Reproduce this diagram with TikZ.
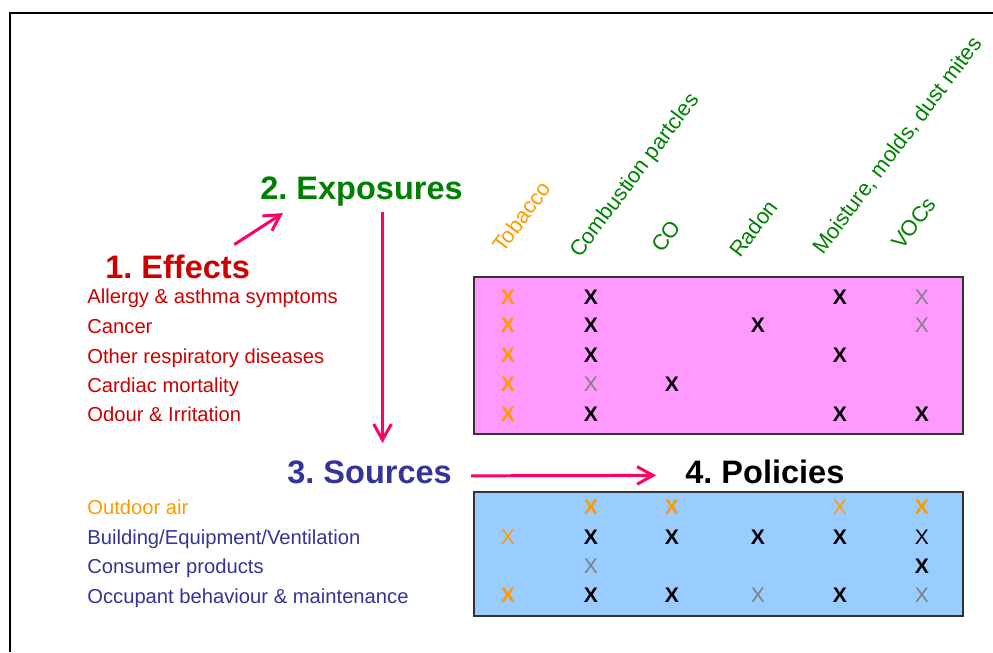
\documentclass[tikz,border=0pt]{standalone}
\usepackage{fontspec}
\setmainfont{Liberation Sans}
\usetikzlibrary{arrows.meta}
\definecolor{effectred}{HTML}{CC0000}
\definecolor{agentgreen}{HTML}{008000}
\definecolor{agentorange}{HTML}{FF9900}
\definecolor{sourceblue}{HTML}{333399}
\definecolor{flowpink}{HTML}{FF0066}
\definecolor{effectpink}{HTML}{FF99FF}
\definecolor{sourcesky}{HTML}{99CCFF}
\tikzset{
  heading/.style={anchor=base west, inner sep=0pt, font=\fontsize{18.5}{20}\selectfont\bfseries},
  item/.style={anchor=base west, inner sep=0pt, font=\fontsize{11.5}{13}\selectfont},
  agent/.style={anchor=base west, inner sep=0pt, rotate=53, text=agentgreen, font=\fontsize{12.4}{14}\selectfont},
  hit/.style={inner sep=0pt, font=\fontsize{12}{12}\selectfont\bfseries},
  hitthin/.style={inner sep=0pt, font=\fontsize{12}{12}\selectfont},
  flow/.style={-{Straight Barb[length=9pt,width=10pt]}, line width=1.7pt, draw=flowpink},
}
\frenchspacing
\begin{document}
\begin{tikzpicture}[x=0.02cm, y=-0.02cm]
\useasboundingbox (0,0) rectangle (993,652);
\draw[line width=1.1pt] (10,652) -- (10,13) -- (993,13);
% the two tables
\filldraw[fill=effectpink, draw=black!80, line width=0.6pt] (474,277) rectangle (963,434);
\filldraw[fill=sourcesky, draw=black!80, line width=0.6pt] (474,492) rectangle (963,616);
% headings
\node[heading, text=effectred] (effects) at (105,278) {1. Effects};
\node[heading, text=agentgreen] (exposures) at (260,199) {2. Exposures};
\node[heading, text=sourceblue] (sources) at (287,483) {3. Sources};
\node[heading] (policies) at (685,483) {4. Policies};
% column heads
\node[agent, text=agentorange] (tobacco) at (503,254) {Tobacco};
\node[agent] (combustion) at (580,259) {Combustion partcles};
\node[agent] (co) at (662,254) {CO};
\node[agent] (radon) at (740,259) {Radon};
\node[agent] (moisture) at (823,256) {Moisture, molds, dust mites};
\node[agent] (vocs) at (902,251) {VOCs};
% effects list
\node[item, text=effectred] (allergy) at (87,303) {Allergy \& asthma symptoms};
\node[item, text=effectred] (cancer) at (87,333) {Cancer};
\node[item, text=effectred] (resp) at (87,363) {Other respiratory diseases};
\node[item, text=effectred] (cardiac) at (87,392) {Cardiac mortality};
\node[item, text=effectred] (odour) at (87,421) {Odour \& Irritation};
% sources list
\node[item, text=agentorange] (outdoor) at (87,514) {Outdoor air};
\node[item, text=sourceblue] (building) at (87,544) {Building/Equipment/Ventilation};
\node[item, text=sourceblue] (consumer) at (87,573) {Consumer products};
\node[item, text=sourceblue] (occupant) at (87,603) {Occupant behaviour \& maintenance};
% effects table
\node[hit, text=agentorange] (allergy-tob) at (508,297) {X};
\node[hit] (allergy-comb) at (591,297) {X};
\node[hit] (allergy-moist) at (840,297) {X};
\node[hitthin, text=gray] (allergy-voc) at (922,297) {X};
\node[hit, text=agentorange] (cancer-tob) at (508,325) {X};
\node[hit] (cancer-comb) at (591,325) {X};
\node[hit] (cancer-radon) at (758,325) {X};
\node[hitthin, text=gray] (cancer-voc) at (922,325) {X};
\node[hit, text=agentorange] (resp-tob) at (508,355) {X};
\node[hit] (resp-comb) at (591,355) {X};
\node[hit] (resp-moist) at (840,355) {X};
\node[hit, text=agentorange] (cardiac-tob) at (508,384) {X};
\node[hitthin, text=gray] (cardiac-comb) at (591,384) {X};
\node[hit] (cardiac-co) at (672,384) {X};
\node[hit, text=agentorange] (odour-tob) at (508,414) {X};
\node[hit] (odour-comb) at (591,414) {X};
\node[hit] (odour-moist) at (840,414) {X};
\node[hit] (odour-voc) at (922,414) {X};
% sources table
\node[hit, text=agentorange] (outdoor-comb) at (591,507) {X};
\node[hit, text=agentorange] (outdoor-co) at (672,507) {X};
\node[hitthin, text=agentorange] (outdoor-moist) at (840,507) {X};
\node[hit, text=agentorange] (outdoor-voc) at (922,507) {X};
\node[hitthin, text=agentorange] (building-tob) at (508,537) {X};
\node[hit] (building-comb) at (591,537) {X};
\node[hit] (building-co) at (672,537) {X};
\node[hit] (building-radon) at (758,537) {X};
\node[hit] (building-moist) at (840,537) {X};
\node[hitthin] (building-voc) at (922,537) {X};
\node[hitthin, text=gray] (consumer-comb) at (591,566) {X};
\node[hit] (consumer-voc) at (922,566) {X};
\node[hit, text=agentorange] (occupant-tob) at (508,595) {X};
\node[hit] (occupant-comb) at (591,595) {X};
\node[hit] (occupant-co) at (672,595) {X};
\node[hitthin, text=gray] (occupant-radon) at (758,595) {X};
\node[hit] (occupant-moist) at (840,595) {X};
\node[hitthin, text=gray] (occupant-voc) at (922,595) {X};
% steps
\draw[flow] ([xshift=-0.32cm, yshift=0.19cm]effects.north east) -- ([xshift=0.46cm, yshift=-0.14cm]exposures.south west);
\draw[flow, shorten >=0.34cm] ([xshift=0.42cm, yshift=-0.12cm]exposures.south) coordinate (down) -- (down |- sources.north);
\draw[flow] ([xshift=0.38cm, yshift=-0.08cm]sources.east) -- ([xshift=-0.58cm, yshift=-0.08cm]policies.west);
\end{tikzpicture}
\end{document}
